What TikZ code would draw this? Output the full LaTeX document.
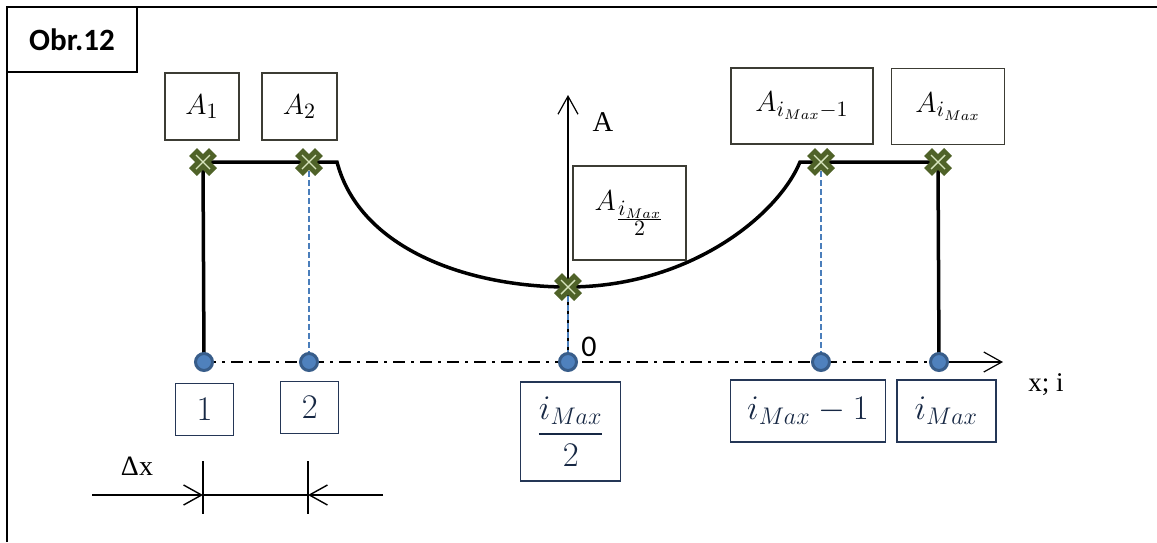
\documentclass[tikz,border=0pt]{standalone}
\usepackage{amsmath}
\usepackage{fontspec}
\setmainfont{Liberation Serif}
\newfontfamily\calibri{Carlito}
\usetikzlibrary{arrows.meta}

\definecolor{zelena}{RGB}{79,98,40}
\definecolor{svzelena}{RGB}{215,228,189}
\definecolor{modra}{RGB}{79,129,189}
\definecolor{tmodra}{RGB}{56,93,138}
\definecolor{carmodra}{RGB}{74,126,187}
\definecolor{ramecek}{RGB}{60,60,52}
\definecolor{namodro}{RGB}{36,54,86}
\definecolor{pismo}{RGB}{23,40,68}

\begin{document}
\begin{tikzpicture}[x=0.5pt,y=-0.5pt,line join=miter,
		>={Straight Barb[length=9pt,width=10pt]},
		horni/.style={draw=ramecek, line width=0.75pt, fill=white, inner sep=0pt, font=\fontsize{15}{17}\selectfont},
		dolni/.style={draw=namodro, line width=0.75pt, fill=white, inner sep=0pt, text=pismo, font=\fontsize{16.5}{19}\selectfont},
		tecka/.style={circle, fill=modra, draw=tmodra, line width=1.5pt, inner sep=0pt, minimum size=8.5pt},
		krivka/.style={line width=1.75pt},
		carkovana/.style={carmodra, line width=1pt, dash pattern=on 3pt off 1.5pt},
		osa/.style={line width=1pt, dash pattern=on 6pt off 3pt on 1.5pt off 3pt},
		bod/.pic={
			\draw[zelena, line width=5.5pt] (-10,-10) -- (10,10) (-10,10) -- (10,-10);
			\draw[svzelena, line width=0.7pt] (-7,-7) -- (7,7) (-7,7) -- (7,-7);
		}]
		\useasboundingbox (0,0) rectangle (1157,542);

		% ramecek obrazku
		\draw[line width=1.25pt] (7,542) -- (7,7) -- (1157,7);
		\node[draw, line width=1pt, minimum width=65pt, minimum height=32.5pt, font=\calibri\bfseries\fontsize{15.5}{18}\selectfont] (obr) at (72,39.5) {Obr.12};

		% body na krivce a na ose
		\coordinate (p1) at (203,162);
		\coordinate (p2) at (309,162);
		\coordinate (k1) at (337,162);
		\coordinate (pm) at (568,287);
		\coordinate (k2) at (800,162);
		\coordinate (p3) at (821,162);
		\coordinate (p4) at (938,162);
		\coordinate (x1) at (204,362);
		\coordinate (x2) at (309,362);
		\coordinate (x3) at (568,362);
		\coordinate (x4) at (821,362);
		\coordinate (x5) at (939,362);
		\coordinate (xend) at (1003,362);
		\coordinate (yend) at (568,95);

		% osy
		\draw[osa] (x1) -- (x5);
		\draw[line width=0.6pt, ->] (x5) -- (xend);
		\draw[line width=0.6pt, ->] (x3) -- (yend);
		\node[font=\fontsize{14.3}{16}\selectfont] (osaA) at (603,122) {A};
		\node[font=\fontsize{13.5}{15}\selectfont] (osaX) at (1046,385) {x; i};
		\node[font=\calibri\fontsize{15}{17}\selectfont] (nula) at (589,347) {0};

		% carkovane svislice
		\draw[carkovana] (p2) -- (x2);
		\draw[carkovana] (pm) -- (x3);
		\draw[carkovana] (p3) -- (x4);

		% prubeh A
		\draw[krivka] (x1) -- (p1) -- (k1) .. controls (360,250) and (470,287) .. (pm)
			.. controls (690,287) and (778,215) .. (k2) -- (p4) -- (x5);

		\pic at (p1) {bod};
		\pic at (p2) {bod};
		\pic at (pm) {bod};
		\pic at (p3) {bod};
		\pic at (p4) {bod};

		\node[tecka] (d1) at (x1) {};
		\node[tecka] (d2) at (x2) {};
		\node[tecka] (d3) at (x3) {};
		\node[tecka] (d4) at (x4) {};
		\node[tecka] (d5) at (x5) {};

		% popisky hodnot A
		\node[horni, minimum width=37pt, minimum height=33.5pt] (A1) at (202,106.5) {$A_1$};
		\node[horni, minimum width=37.5pt, minimum height=33.5pt] (A2) at (299.5,106.5) {$A_2$};
		\node[horni, minimum width=56.5pt, minimum height=47pt] (Ast) at (629.5,213) {$A_{\frac{\scriptstyle i_{Max}}{\scriptstyle 2}}$};
		\node[horni, minimum width=71pt, minimum height=38pt] (Apr) at (802,106) {$A_{i_{Max}-1}$};
		\node[horni, minimum width=56.5pt, minimum height=38pt] (Amax) at (948,106.5) {$A_{i_{Max}}$};

		% popisky indexu
		\node[dolni, minimum width=29pt, minimum height=26pt] (i1) at (204.5,409.5) {$1$};
		\node[dolni, minimum width=29pt, minimum height=26pt] (i2) at (309.7,407.7) {$2$};
		\node[dolni, minimum width=50pt, minimum height=49.5pt] (ist) at (570.7,431.3) {$\dfrac{i_{Max}}{2}$};
		\node[dolni, minimum width=77.5pt, minimum height=31pt] (ipr) at (808,411) {$i_{Max}-1$};
		\node[dolni, minimum width=49.5pt, minimum height=31pt] (imax) at (946.3,411) {$i_{Max}$};

		% kota dx
		\coordinate (m0) at (92,495);
		\coordinate (t1) at (203,495);
		\coordinate (t2) at (308,495);
		\coordinate (m3) at (383,495);
		\draw[line width=0.7pt] (203,461) -- (203,514);
		\draw[line width=0.7pt] (308,461) -- (308,514);
		\draw[line width=0.7pt, ->] (m0) -- (t1);
		\draw[line width=0.7pt] (t1) -- (t2);
		\draw[line width=0.7pt, ->] (m3) -- (t2);
		\node[font=\fontsize{14}{16}\selectfont] (dx) at (137,466) {Δx};
	\end{tikzpicture}
\end{document}
